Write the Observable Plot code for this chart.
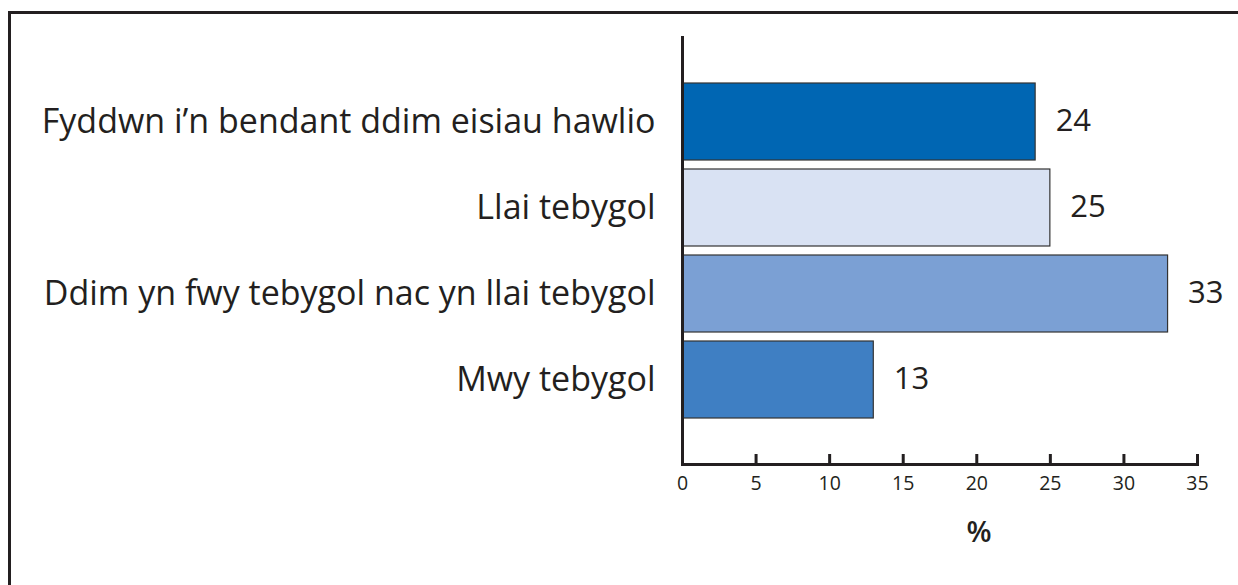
<!DOCTYPE html>
<html><head><meta charset="utf-8">
<script src="https://cdn.jsdelivr.net/npm/d3@7"></script>
<script src="https://cdn.jsdelivr.net/npm/@observablehq/plot@0.6"></script>
<style>
body{margin:0;background:#fff;}
#wrap{position:relative;width:1238px;height:585px;overflow:hidden;background:#fff;}
#border{position:absolute;left:8px;top:11px;right:-10px;bottom:-10px;border-left:3px solid #231f20;border-top:3px solid #231f20;pointer-events:none;}
#wrap svg{position:absolute;left:0;top:0;}
</style></head><body><div id="wrap"><div id="border"></div></div>
<script>
const categories = ["Fyddwn i’n bendant ddim eisiau hawlio", "Llai tebygol", "Ddim yn fwy tebygol nac yn llai tebygol", "Mwy tebygol"];
const values = [24, 25, 33, 13];
const colors = ["#0066b3", "#d9e2f3", "#7ba0d4", "#3f7fc3"];
const xTicks = [0, 5, 10, 15, 20, 25, 30, 35];
const xLabel = "%";

const data = categories.map((c, i) => ({category: c, value: values[i], color: colors[i]}));

const chart = Plot.plot({
  width: 1238, height: 585,
  marginLeft: 682, marginRight: 41, marginTop: 36, marginBottom: 121,
  style: {fontFamily: "'Open Sans', sans-serif", color: "#231f20", background: "transparent", overflow: "visible"},
  x: {domain: [0, 35], ticks: xTicks},
  y: {domain: categories, paddingInner: 0.105, paddingOuter: 0.535},
  marks: [
    Plot.barX(data, {x: "value", y: "category", fill: "color", stroke: "#333", strokeWidth: 1.2}),
    Plot.text(data, {x: "value", y: "category", text: d => String(d.value), textAnchor: "start", dx: 20, dy: -1, fontSize: 31, fill: "#231f20"}),
    Plot.axisY({tickSize: 0, tickPadding: 27, fontSize: 34, label: null, fill: "#231f20"}),
    Plot.axisX({ticks: xTicks, tickSize: -10, tickPadding: 22, fontSize: 19.5, strokeWidth: 3, label: null, fill: "#231f20", stroke: "#231f20"}),
    Plot.ruleX([0], {stroke: "#231f20", strokeWidth: 3}),
    Plot.frame({anchor: "bottom", stroke: "#231f20", strokeWidth: 3}),
    Plot.text([xLabel], {frameAnchor: "bottom", dx: 39, dy: 77, fontSize: 29, fontWeight: 600, fill: "#231f20"})
  ]
});
document.getElementById("wrap").appendChild(chart);
</script>
</body></html>
